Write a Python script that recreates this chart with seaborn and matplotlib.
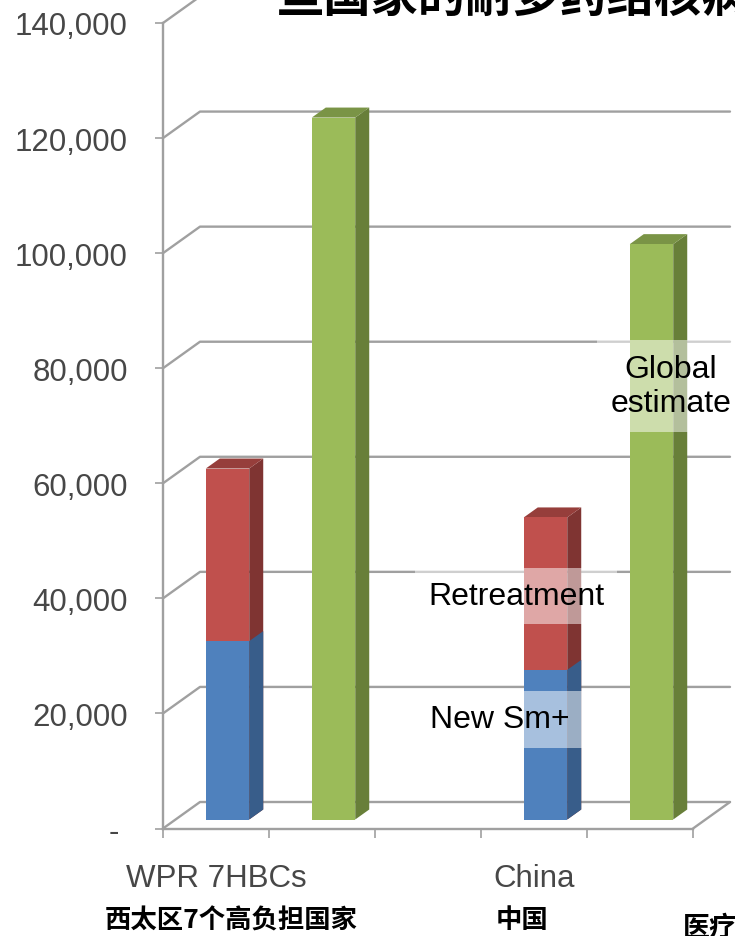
import numpy as np
import pandas as pd
import matplotlib
matplotlib.use("Agg")
import matplotlib.pyplot as plt
import matplotlib.transforms as mtransforms
from matplotlib.patches import Polygon
from matplotlib.lines import Line2D
import seaborn as sns

# ---------------- data ----------------
slot_ids = ["WPR 7HBCs", "WPR 7HBCs global", "spacer", "China", "China global"]
slot_labels = ["WPR 7HBCs", "", "", "China", ""]
groups = ["WPR 7HBCs", "China"]
new_smear_pos = [31000, 26000]
retreatment = [30000, 26500]
global_slots = ["WPR 7HBCs global", "China global"]
global_estimate = [122000, 100000]
y_ticks = [0, 20000, 40000, 60000, 80000, 100000, 120000, 140000]
y_tick_labels = ["- ", "20,000", "40,000", "60,000", "80,000", "100,000", "120,000", "140,000"]
title_text = "些国家的耐多药结核病"
cn_labels = ["西太区7个高负担国家", "中国", "医疗"]

# ---------------- style ----------------
sns.set_theme(style="white")
plt.rcParams["font.family"] = ["Liberation Sans", "DejaVu Sans"]
CJK = ["Noto Sans CJK SC", "DejaVu Sans"]

BLUE, BLUE_SIDE, BLUE_TOP = "#4F81BD", "#385D8A", "#3F6798"
RED, RED_SIDE, RED_TOP = "#C0504D", "#7F3432", "#963E3B"
GREEN, GREEN_SIDE, GREEN_TOP = "#9BBB59", "#687F39", "#7A9446"
GRID = "#A0A0A0"
LABEL = "#474747"

W, H, DPI = 7.35, 9.37, 100
fig = plt.figure(figsize=(W, H), dpi=DPI)
fig.patch.set_facecolor("white")
ax = fig.add_axes([163 / 735, (937 - 829.5) / 937, 530 / 735, (829.5 - 24) / 937])
ax.set_facecolor("none")

df_notified = pd.DataFrame({
    "slot": groups,
    "new": new_smear_pos,
    "total": np.array(new_smear_pos) + np.array(retreatment),
})
df_global = pd.DataFrame({"slot": global_slots, "value": global_estimate})

BAR_W = 0.41
FRONT = (11.5, 9.0)   # px offset of bar front face from front plane
DEPTH = (14.0, 10.0)  # px depth of each bar
BACK = (37.0, 26.5)   # px depth of the back wall

layers = [
    (df_notified, "total", RED, RED_SIDE, RED_TOP, True),
    (df_notified, "new", BLUE, BLUE_SIDE, BLUE_TOP, False),
    (df_global, "value", GREEN, GREEN_SIDE, GREEN_TOP, True),
]

layer_patches = []
for df, col, c, cs, ct, top in layers:
    n0 = len(ax.patches)
    sns.barplot(data=df, x="slot", y=col, order=slot_ids, color=c, saturation=1,
                width=BAR_W, errorbar=None, ax=ax, linewidth=0, zorder=3)
    layer_patches.append((ax.patches[n0:], cs, ct, top))

ax.set_xlim(-0.5, 4.5)
ax.set_ylim(0, 140000)

ident = mtransforms.IdentityTransform()
front_off = mtransforms.ScaledTranslation(FRONT[0] / DPI, FRONT[1] / DPI, fig.dpi_scale_trans)


def disp(x, y):
    return np.array(ax.transData.transform((x, y)))


# back wall gridlines + left wall diagonals
for v in y_ticks:
    p0 = disp(-0.5, v)
    p1 = p0 + np.array(BACK)
    p2 = disp(4.5, v) + np.array(BACK)
    ax.add_line(Line2D([p0[0], p1[0], p2[0]], [p0[1], p1[1], p2[1]], transform=ident,
                       color=GRID, lw=1.7, clip_on=False, zorder=1))
# floor right edge
q0 = disp(4.5, 0)
q1 = q0 + np.array(BACK)
ax.add_line(Line2D([q0[0], q1[0]], [q0[1], q1[1]], transform=ident, color=GRID,
                   lw=1.7, clip_on=False, zorder=1))

# bars: shift front faces and add 3D side/top faces
zo = 3
for patches, cs, ct, top in layer_patches:
    for p in patches:
        h = p.get_height()
        if not np.isfinite(h) or h == 0:
            continue
        zo += 1
        p.set_transform(ax.transData + front_off)
        p.set_zorder(zo + 0.5)
        x0, w, y0 = p.get_x(), p.get_width(), p.get_y()
        a = disp(x0, y0) + np.array(FRONT)
        b = disp(x0 + w, y0 + h) + np.array(FRONT)
        d = np.array(DEPTH)
        side = [(b[0], a[1]), (b[0], b[1]), (b[0] + d[0], b[1] + d[1]), (b[0] + d[0], a[1] + d[1])]
        ax.add_patch(Polygon(side, closed=True, transform=ident, facecolor=cs,
                             edgecolor="none", clip_on=False, zorder=zo))
        if top:
            tp = [(a[0], b[1]), (b[0], b[1]), (b[0] + d[0], b[1] + d[1]), (a[0] + d[0], b[1] + d[1])]
            ax.add_patch(Polygon(tp, closed=True, transform=ident, facecolor=ct,
                                 edgecolor="none", clip_on=False, zorder=zo))

# axes styling
for s in ["top", "right"]:
    ax.spines[s].set_visible(False)
for s in ["left", "bottom"]:
    ax.spines[s].set_color(GRID)
    ax.spines[s].set_linewidth(1.7)
    ax.spines[s].set_zorder(2)

ax.set_yticks(y_ticks)
ax.set_yticklabels(y_tick_labels)
ax.tick_params(axis="y", direction="out", length=5.8, width=1.2, color=GRID,
               labelsize=22.5, labelcolor=LABEL, pad=19.5, left=True)
ax.set_xticks(range(5))
ax.set_xticklabels(slot_labels)
ax.set_xticks(np.arange(-0.5, 5.0, 1.0), minor=True)
ax.tick_params(axis="x", which="major", length=0, labelsize=22.5, labelcolor=LABEL, pad=24.5)
ax.tick_params(axis="x", which="minor", direction="out", length=6.5, width=1.2,
               color=GRID, bottom=True)
ax.set_xlabel("")
ax.set_ylabel("")
ax.grid(False)

# series labels
box = dict(boxstyle="square,pad=0.42", facecolor="white", edgecolor="none", alpha=0.5)
ax.text(4.29, 76900, "Global\nestimate", ha="center", va="center", fontsize=23,
        color="black", bbox=box, zorder=50, linespacing=1.2)
ax.text(2.83, 40400, "Retreatment", ha="center", va="center", fontsize=23,
        color="black", bbox=box, zorder=50)
ax.text(2.68, 19000, "New Sm+", ha="center", va="center", fontsize=23,
        color="black", bbox=box, zorder=50)

# title (cut at the top of the slide)
fig.text(277 / 735, 1 - 12 / 937, title_text, ha="left", va="baseline", fontsize=34,
         fontweight="bold", family=CJK, color="black")

# Chinese labels under the chart
fig.text(231 / 735, 1 - 921 / 937, cn_labels[0], ha="center", va="center",
         fontsize=19, fontweight="bold", family=CJK, color="black")
fig.text(522 / 735, 1 - 921 / 937, cn_labels[1], ha="center", va="center",
         fontsize=19, fontweight="bold", family=CJK, color="black")
fig.text(683 / 735, 1 - 928 / 937, cn_labels[2], ha="left", va="center",
         fontsize=19.5, fontweight="bold", family=CJK, color="black")

fig.savefig("out.png", dpi=DPI, facecolor="white")
